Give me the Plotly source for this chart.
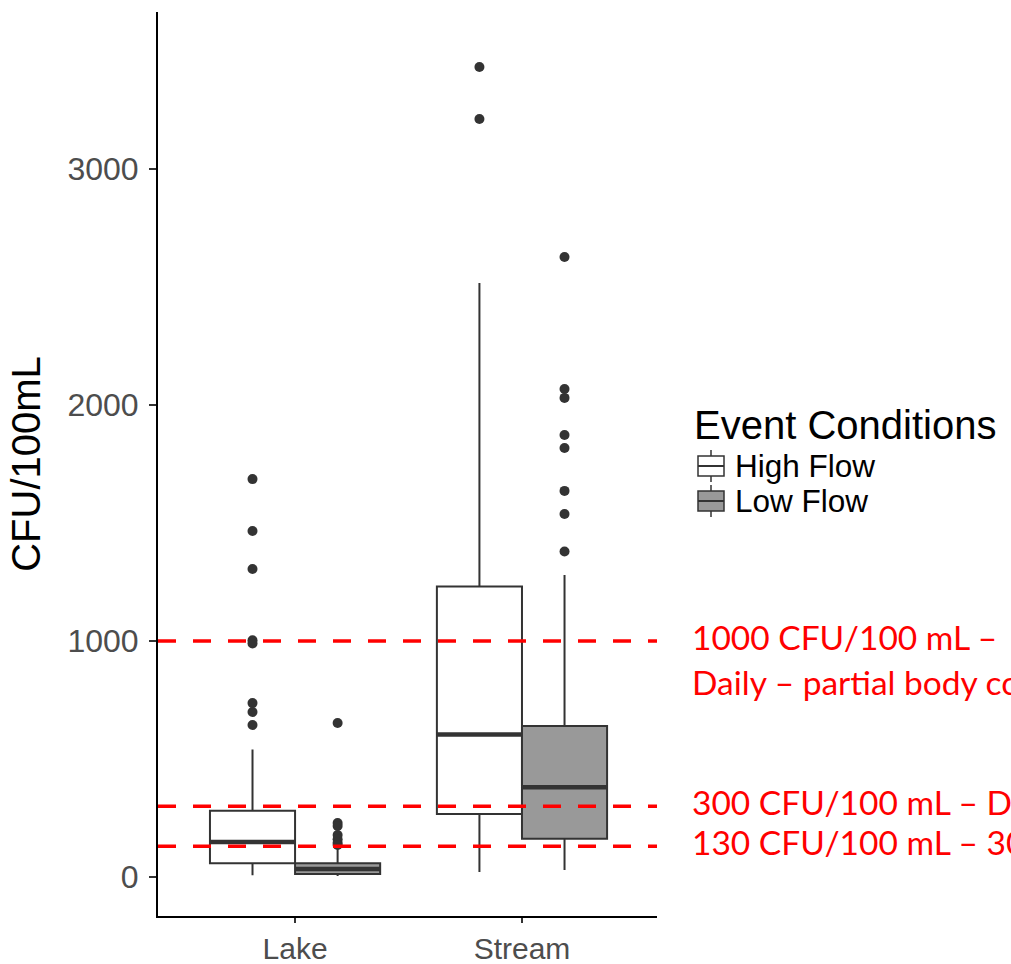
import plotly.graph_objects as go

# ---- data ----
categories = ["Lake", "Stream"]
groups = ["High Flow", "Low Flow"]

high_q1 = [59, 267]
high_median = [148, 604]
high_q3 = [281, 1231]
high_lower = [8, 21]
high_upper = [540, 2517]

low_q1 = [13, 162]
low_median = [34, 381]
low_q3 = [59, 640]
low_lower = [4, 30]
low_upper = [119, 1280]

high_outliers_lake = [1686, 1466, 1305, 1003, 990, 737, 699, 644]
high_outliers_stream = [3432, 3212]
low_outliers_lake = [653, 229, 216, 178, 160, 145, 136]
low_outliers_stream = [2627, 2068, 2030, 1873, 1818, 1636, 1538, 1379]

thresholds = [1000, 300, 130]
threshold_labels = [
    "1000 CFU/100 mL –",
    "300 CFU/100 mL – Daily – full body contact",
    "130 CFU/100 mL – 30-day geometric mean",
]
threshold_label_line2 = "Daily – partial body contact"

y_ticks = [0, 1000, 2000, 3000]

# ---- layout constants ----
W, H = 1011, 964
ML, MR, MT, MB = 158, 354, 12, 48
cat_pos = [1, 2]
dodge = 0.1875
box_w = 0.375
fills = {"High Flow": "white", "Low Flow": "#999999"}
edge = "#333333"


def px_x(px):
    return (px - ML) / (W - ML - MR)


def px_y(py):
    return (H - MB - py) / (H - MT - MB)


fig = go.Figure()

stats = {
    "High Flow": (high_q1, high_median, high_q3, high_lower, high_upper,
                  [high_outliers_lake, high_outliers_stream], -dodge),
    "Low Flow": (low_q1, low_median, low_q3, low_lower, low_upper,
                 [low_outliers_lake, low_outliers_stream], dodge),
}

for g in groups:
    q1, med, q3, lo, up, outs, off = stats[g]
    xs = [p + off for p in cat_pos]
    fig.add_trace(go.Box(
        x=xs, q1=q1, median=med, q3=q3, lowerfence=lo, upperfence=up,
        width=box_w, name=g, fillcolor=fills[g],
        line=dict(color=edge, width=2), whiskerwidth=0,
        boxpoints=False, hoverinfo="skip", showlegend=False,
    ))
    # thick median
    mx, my = [], []
    for x, m in zip(xs, med):
        mx += [x - box_w / 2, x + box_w / 2, None]
        my += [m, m, None]
    fig.add_trace(go.Scatter(x=mx, y=my, mode="lines",
                             line=dict(color=edge, width=4.5),
                             showlegend=False, hoverinfo="skip"))
    # outliers
    ox, oy = [], []
    for x, vals in zip(xs, outs):
        ox += [x] * len(vals)
        oy += vals
    fig.add_trace(go.Scatter(x=ox, y=oy, mode="markers",
                             marker=dict(color=edge, size=10),
                             showlegend=False, hoverinfo="skip"))

# threshold lines
for t in thresholds:
    fig.add_shape(type="line", xref="paper", x0=0, x1=1, yref="y", y0=t, y1=t,
                  line=dict(color="#ff0000", width=3.5, dash="18px,17px"))

red_font = dict(family="Lato", size=33.5, color="#ff0000")
for t, lab in zip(thresholds, threshold_labels):
    fig.add_annotation(xref="paper", x=px_x(690), y=t, yref="y", text=lab,
                       showarrow=False, xanchor="left", yanchor="middle",
                       font=red_font, yshift=4)
fig.add_annotation(xref="paper", x=px_x(690), y=thresholds[0], yref="y",
                   text=threshold_label_line2, showarrow=False,
                   xanchor="left", yanchor="middle", font=red_font, yshift=-41)

# ---- legend (drawn manually to mimic ggplot keys) ----
fig.add_annotation(xref="paper", yref="paper", x=px_x(692), y=px_y(425),
                   text="Event Conditions", showarrow=False,
                   xanchor="left", yanchor="middle",
                   font=dict(size=40, color="black"))
for i, g in enumerate(groups):
    cy = 466 + 35 * i
    fig.add_shape(type="line", xref="paper", yref="paper",
                  x0=px_x(711), x1=px_x(711), y0=px_y(cy - 16), y1=px_y(cy + 16),
                  line=dict(color=edge, width=1.5))
    fig.add_shape(type="rect", xref="paper", yref="paper",
                  x0=px_x(698), x1=px_x(724), y0=px_y(cy - 10), y1=px_y(cy + 10),
                  fillcolor=fills[g], line=dict(color=edge, width=1.5))
    fig.add_shape(type="line", xref="paper", yref="paper",
                  x0=px_x(698), x1=px_x(724), y0=px_y(cy), y1=px_y(cy),
                  line=dict(color=edge, width=2))
    fig.add_annotation(xref="paper", yref="paper", x=px_x(733), y=px_y(cy),
                       text=g, showarrow=False, xanchor="left", yanchor="middle",
                       font=dict(size=31.5, color="black"))

fig.update_layout(
    width=W, height=H,
    margin=dict(l=ML, r=MR, t=MT, b=MB),
    paper_bgcolor="white", plot_bgcolor="white",
    boxmode="overlay",
    font=dict(family="Liberation Sans, Arial, sans-serif"),
    showlegend=False,
)
fig.update_xaxes(
    range=[0.396, 2.595], tickvals=cat_pos, ticktext=categories,
    showline=True, linecolor="black", linewidth=2, showgrid=False, zeroline=False,
    ticks="outside", ticklen=5, tickcolor="#333333", tickwidth=1.5,
    tickfont=dict(size=30, color="#4d4d4d"), automargin=False,
)
fig.update_yaxes(
    range=[-165, 3665], tickvals=y_ticks,
    showline=True, linecolor="black", linewidth=2, showgrid=False, zeroline=False,
    ticks="outside", ticklen=7, tickcolor="#333333", tickwidth=1.5,
    tickfont=dict(size=32, color="#4d4d4d"), automargin=False,
    ticklabelstandoff=4,
    title=dict(text="CFU/100mL", font=dict(size=40, color="black"), standoff=14),
)

fig.write_html("out.html")
